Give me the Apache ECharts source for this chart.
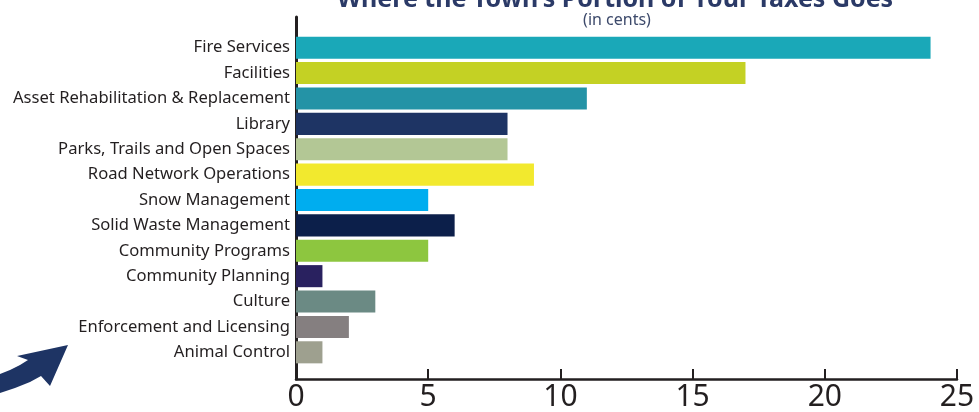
<!DOCTYPE html>
<html>
<head>
<meta charset="utf-8">
<script src="https://cdn.jsdelivr.net/npm/echarts@6/dist/echarts.min.js"></script>
<style>html,body{margin:0;padding:0;background:#fff}#c{width:979px;height:412px}</style>
</head>
<body>
<div id="c"></div>
<script>
const categories = ["Fire Services","Facilities","Asset Rehabilitation & Replacement","Library","Parks, Trails and Open Spaces","Road Network Operations","Snow Management","Solid Waste Management","Community Programs","Community Planning","Culture","Enforcement and Licensing","Animal Control"];
const values = [24,17,11,8,8,9,5,6,5,1,3,2,1];
const colors = ["#1aa8b8","#c4d124","#2493a6","#1e3464","#b3c795","#f2e92e","#00adef","#0c1f4a","#8dc63f","#29215f","#6b8a84","#857f80","#9ea08f"];
const xTicks = [0,5,10,15,20,25];
const titleText = "Where the Town’s Portion of Your Taxes Goes";
const subText = "(in cents)";

const chart = echarts.init(document.getElementById('c'), null, {renderer:'canvas'});
const fontFam = '"Noto Sans", sans-serif';
chart.setOption({
  animation:false,
  title:[
    {text:titleText, left:610, textAlign:'center', top:-18, textStyle:{fontSize:25, fontWeight:'bold', color:'#2b3a67', fontFamily:fontFam}},
    {text:subText, left:612, textAlign:'center', top:7, textStyle:{fontSize:16, fontWeight:'normal', color:'#3d4a6b', fontFamily:fontFam}}
  ],
  grid:[
    {left:296, right:22, top:35, height:330},
    {left:296, right:22, top:17, bottom:30}
  ],
  xAxis:[
    {gridIndex:0, type:'value', min:xTicks[0], max:xTicks[xTicks.length-1], interval:5, show:false},
    {gridIndex:1, type:'value', min:xTicks[0], max:xTicks[xTicks.length-1], interval:5,
     axisLine:{show:true, lineStyle:{color:'#231f20', width:2.5}},
     axisTick:{show:true, inside:true, length:10, lineStyle:{color:'#231f20', width:2}},
     axisLabel:{fontSize:30, color:'#231f20', margin:3, fontFamily:fontFam},
     splitLine:{show:false}}
  ],
  yAxis:[
    {gridIndex:0, type:'category', data:categories, inverse:true,
     axisLine:{show:false}, axisTick:{show:false},
     axisLabel:{fontSize:16.6, color:'#231f20', margin:6, fontFamily:fontFam}},
    {gridIndex:1, type:'value', min:0, max:1,
     axisLine:{show:true, lineStyle:{color:'#231f20', width:3}},
     axisTick:{show:false}, axisLabel:{show:false}, splitLine:{show:false}}
  ],
  series:[{
    type:'bar', xAxisIndex:0, yAxisIndex:0, barCategoryGap:'13%',
    data: values.map((v,i)=>({value:v, itemStyle:{color:colors[i]}}))
  }],
  graphic:[{
    type:'polygon',
    shape:{points:[[0,374],[10,370],[20,365],[28,360],[17,356],[68,345],[50,386],[41,376],[30,382],[15,388],[0,393]]},
    style:{fill:'#1e3464'}
  }]
});
</script>
</body>
</html>
